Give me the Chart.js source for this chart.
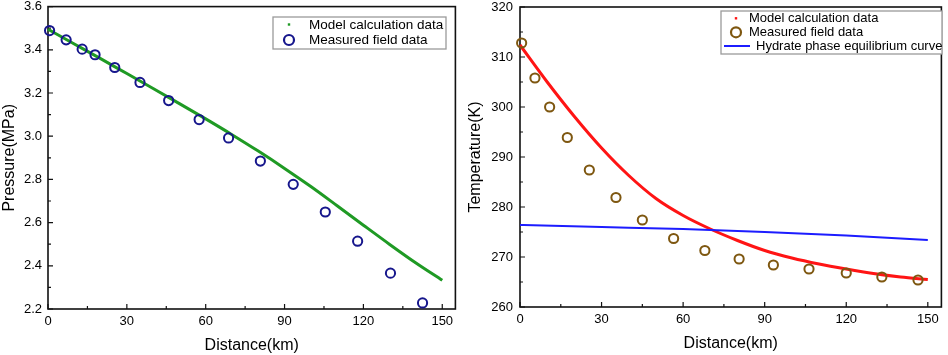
<!DOCTYPE html>
<html>
<head>
<meta charset="utf-8">
<script src="https://cdn.jsdelivr.net/npm/chart.js@4.4.1/dist/chart.umd.min.js"></script>
<style>
  html, body { margin: 0; padding: 0; background: #fff; }
  #wrap { position: relative; width: 948px; height: 355px; }
  .panel { position: absolute; top: 0; height: 355px; }
  #left { left: 0; width: 462px; }
  #right { left: 462px; width: 486px; }
</style>
</head>
<body>
<div id="wrap">
  <div class="panel" id="left"><canvas id="pressureChart"></canvas></div>
  <div class="panel" id="right"><canvas id="tempChart"></canvas></div>
</div>
<script>
/* ---------- data ---------- */
const modelKm = [0, 10, 20, 30, 40, 50, 60, 70, 80, 90, 100, 110, 120, 130, 140, 150];
const pressureModel = [3.495, 3.427, 3.359, 3.290, 3.221, 3.151, 3.080, 3.007, 2.931, 2.851, 2.767, 2.678, 2.588, 2.499, 2.413, 2.333];

const pressureFieldKm = [0.6, 6.9, 13.0, 17.9, 25.4, 35.0, 45.9, 57.5, 68.7, 80.8, 93.3, 105.5, 117.8, 130.3, 142.5];
const pressureField = [3.489, 3.446, 3.403, 3.377, 3.318, 3.249, 3.165, 3.077, 2.992, 2.885, 2.777, 2.649, 2.514, 2.366, 2.228];

const tempModel = [312.4, 305.0, 298.1, 291.8, 286.3, 281.7, 278.3, 275.6, 273.3, 271.3, 269.8, 268.6, 267.6, 266.7, 266.0, 265.5];

const tempFieldKm = [0.6, 5.5, 10.9, 17.4, 25.5, 35.3, 45.0, 56.5, 68.0, 80.6, 93.2, 106.3, 120.0, 133.1, 146.4];
const tempField = [312.8, 305.8, 300.0, 293.9, 287.4, 281.9, 277.4, 273.7, 271.3, 269.6, 268.4, 267.6, 266.8, 266.0, 265.4];

const hydrateKm = [0, 30, 60, 90, 120, 150];
const hydrateTemp = [276.4, 276.0, 275.6, 275.0, 274.3, 273.4];

const distanceTicks = [0, 30, 60, 90, 120, 150];
const pressureTicks = [2.2, 2.4, 2.6, 2.8, 3.0, 3.2, 3.4, 3.6];
const tempTicks = [260, 270, 280, 290, 300, 310, 320];

/* ---------- helpers ---------- */
const FONT = '"Liberation Sans", Arial, sans-serif';
Chart.defaults.font.family = FONT;
Chart.defaults.color = '#000';

const pts = (xs, ys) => xs.map((x, i) => ({ x: x, y: ys[i] }));

// box around plot area + short inward ticks (major and minor)
const framePlugin = {
  id: 'frame',
  beforeDatasetsDraw(chart, args, opts) {
    const { ctx, chartArea: a, scales: { x, y } } = chart;
    ctx.save();
    ctx.strokeStyle = '#111';
    ctx.lineWidth = 1.6;
    ctx.strokeRect(a.left, a.top, a.right - a.left, a.bottom - a.top);
    ctx.lineWidth = 1.2;
    ctx.beginPath();
    opts.xTicks.forEach((v, i, arr) => {
      const px = x.getPixelForValue(v);
      ctx.moveTo(px, a.bottom); ctx.lineTo(px, a.bottom - 5);
      if (i < arr.length - 1) {
        const m = x.getPixelForValue((v + arr[i + 1]) / 2);
        ctx.moveTo(m, a.bottom); ctx.lineTo(m, a.bottom - 3);
      }
    });
    opts.yTicks.forEach((v, i, arr) => {
      const py = y.getPixelForValue(v);
      ctx.moveTo(a.left, py); ctx.lineTo(a.left + 5, py);
      if (i < arr.length - 1) {
        const m = y.getPixelForValue((v + arr[i + 1]) / 2);
        ctx.moveTo(a.left, m); ctx.lineTo(a.left + 3, m);
      }
    });
    ctx.stroke();
    ctx.restore();
  }
};

// framed legend like the Origin one
const boxLegend = {
  id: 'boxLegend',
  afterDatasetsDraw(chart, args, opts) {
    const ctx = chart.ctx;
    const [bx, by, bw, bh] = opts.box;
    ctx.save();
    ctx.fillStyle = '#fff';
    ctx.fillRect(bx, by, bw, bh);
    ctx.strokeStyle = '#9a9a9a';
    ctx.lineWidth = 1.3;
    ctx.strokeRect(bx, by, bw, bh);
    ctx.font = opts.fontSize + 'px ' + FONT;
    ctx.textBaseline = 'middle';
    chart.data.datasets.forEach((ds, i) => {
      const r = opts.rows[i];
      ctx.strokeStyle = ds.borderColor;
      ctx.fillStyle = ds.borderColor;
      if (ds.legendMarker === 'dot') {
        ctx.fillRect(r.mx - 1.2, r.y - 1.2, 2.4, 2.4);
      } else if (ds.legendMarker === 'circle') {
        ctx.lineWidth = 2.2;
        ctx.beginPath();
        ctx.arc(r.mx, r.y, 5, 0, Math.PI * 2);
        ctx.stroke();
      } else {
        ctx.lineWidth = 2;
        ctx.beginPath();
        ctx.moveTo(r.mx - 13, r.y); ctx.lineTo(r.mx + 13, r.y);
        ctx.stroke();
      }
      ctx.fillStyle = '#000';
      ctx.fillText(ds.label, r.tx, r.y + 0.5);
    });
    ctx.restore();
  }
};

function axis(min, max, ticks, title, size, tickPad, titlePad) {
  return {
    type: 'linear', min: min, max: max,
    grid: { display: false, drawTicks: false },
    border: { display: false },
    afterBuildTicks: s => { s.ticks = ticks.map(v => ({ value: v })); },
    afterFit: s => {
      if (s.isHorizontal()) s.height = size; else s.width = size;
      // keep the plot area exactly where the layout padding puts it
      s.paddingTop = 0; s.paddingBottom = 0; s.paddingLeft = 0; s.paddingRight = 0;
    },
    ticks: { font: { size: 13 }, padding: tickPad, color: '#000',
             callback: v => (ticks === pressureTicks ? v.toFixed(1) : String(v)) },
    title: { display: true, text: title, font: { size: 16 }, color: '#000', padding: titlePad }
  };
}

function baseOptions(xAxis, yAxis, pad, frame, legend) {
  return {
    responsive: true,
    maintainAspectRatio: false,
    animation: false,
    layout: { padding: pad },
    scales: { x: xAxis, y: yAxis },
    plugins: {
      legend: { display: false },
      tooltip: { enabled: false },
      frame: frame,
      boxLegend: legend
    }
  };
}

/* ---------- pressure panel ---------- */
new Chart(document.getElementById('pressureChart'), {
  type: 'scatter',
  data: {
    datasets: [
      {
        label: 'Model calculation data', legendMarker: 'dot',
        data: pts(modelKm, pressureModel),
        showLine: true, borderColor: '#1f9a24', borderWidth: 3,
        pointRadius: 0, cubicInterpolationMode: 'monotone', order: 2, clip: false
      },
      {
        label: 'Measured field data', legendMarker: 'circle',
        data: pts(pressureFieldKm, pressureField),
        showLine: false, borderColor: '#16168c', backgroundColor: 'rgba(0,0,0,0)',
        pointRadius: 4.6, pointBorderWidth: 2, order: 1, clip: false
      }
    ]
  },
  options: baseOptions(
    axis(0, 155, distanceTicks, 'Distance(km)', 46, 5, { top: 0, bottom: 0 }),
    axis(2.2, 3.6, pressureTicks, 'Pressure(MPa)', 48, 6, { top: 0, bottom: 0 }),
    { top: 6, right: 5, left: 0, bottom: 0 },
    { xTicks: distanceTicks, yTicks: pressureTicks },
    { box: [273, 17, 173, 32], fontSize: 13.5,
      rows: [{ y: 24.5, mx: 289, tx: 309 }, { y: 40, mx: 289, tx: 309 }] }
  ),
  plugins: [framePlugin, boxLegend]
});

/* ---------- temperature panel ---------- */
new Chart(document.getElementById('tempChart'), {
  type: 'scatter',
  data: {
    datasets: [
      {
        label: 'Model calculation data', legendMarker: 'dot',
        data: pts(modelKm, tempModel),
        showLine: true, borderColor: '#ff1414', borderWidth: 3,
        pointRadius: 0, cubicInterpolationMode: 'monotone', order: 3, clip: false
      },
      {
        label: 'Measured field data', legendMarker: 'circle',
        data: pts(tempFieldKm, tempField),
        showLine: false, borderColor: '#7e5710', backgroundColor: 'rgba(0,0,0,0)',
        pointRadius: 4.6, pointBorderWidth: 2, order: 1, clip: false
      },
      {
        label: 'Hydrate phase equilibrium curve', legendMarker: 'line',
        data: pts(hydrateKm, hydrateTemp),
        showLine: true, borderColor: '#1c1cff', borderWidth: 2,
        pointRadius: 0, cubicInterpolationMode: 'monotone', order: 2, clip: false
      }
    ]
  },
  options: baseOptions(
    axis(0, 155, distanceTicks, 'Distance(km)', 48, 5, { top: 0, bottom: 2 }),
    axis(260, 320, tempTicks, 'Temperature(K)', 58, 7, { top: 4, bottom: 0 }),
    { top: 7, right: 3, left: 0, bottom: 0 },
    { xTicks: distanceTicks, yTicks: tempTicks },
    { box: [259, 11, 221, 43], fontSize: 13,
      rows: [{ y: 18.3, mx: 274, tx: 287 }, { y: 32.3, mx: 274, tx: 287 }, { y: 46, mx: 275, tx: 294 }] }
  ),
  plugins: [framePlugin, boxLegend]
});
</script>
</body>
</html>
